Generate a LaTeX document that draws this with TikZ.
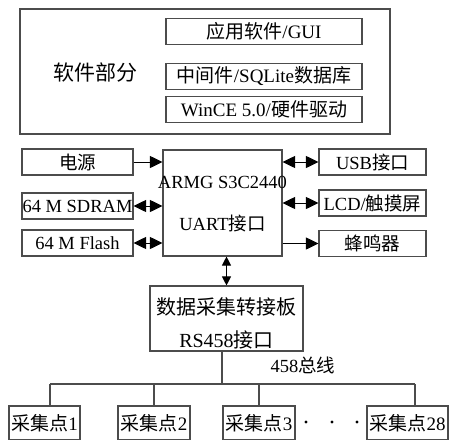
\documentclass[tikz,border=0pt]{standalone}
\usepackage{fontspec}
\setmainfont{Liberation Serif}
\newfontfamily\cjkfont{Noto Sans CJK SC}
\newcommand\zh[1]{{\cjkfont #1}}
\usetikzlibrary{arrows.meta}
\definecolor{linec}{gray}{0.3}
\begin{document}
\begin{tikzpicture}[x=1pt,y=-1pt,
  box/.style={draw=linec, line width=1.1pt, inner sep=0pt, font=\fontsize{18.5}{20}\selectfont},
  swbox/.style={box, minimum width=196pt, minimum height=26pt, font=\fontsize{19}{20}\selectfont},
  lbox/.style={box, minimum width=111pt, minimum height=26pt},
  rbox/.style={box, minimum width=107pt, minimum height=26pt},
  pbox/.style={box, minimum height=34pt, font=\fontsize{19}{20}\selectfont},
  lbl/.style={inner sep=0pt, font=\fontsize{18.5}{20}\selectfont},
  wire/.style={draw=linec, line width=1.1pt},
  arr/.style={draw=black, line width=1pt, -{Triangle[length=12.5pt,width=12pt]}},
  darr/.style={draw=black, line width=1pt, {Triangle[length=12.5pt,width=12pt]}-{Triangle[length=12.5pt,width=12pt]}},
  varr/.style={draw=black, line width=1pt, {Triangle[length=9pt,width=9pt]}-{Triangle[length=9pt,width=9pt]}}
]
\useasboundingbox (0,0) rectangle (449,439);

% software part
\node[box, minimum width=370pt, minimum height=125pt] (sw) at (205,71.5) {};
\node[lbl, font=\fontsize{21}{22}\selectfont] (swl) at (95,73) {\zh{软件部分}};
\node[swbox] (gui) at (264,31.5) {\zh{应用软件}/GUI};
\node[swbox] (sql) at (264,76.5) {\zh{中间件}/SQLite\zh{数据库}};
\node[swbox] (wince) at (264,109.5) {WinCE 5.0/\zh{硬件驱动}};

% hardware
\node[lbox] (power) at (77.5,162) {\zh{电源}};
\node[lbox] (sdram) at (77.5,206) {64 M SDRAM};
\node[lbox] (flash) at (77.5,243) {64 M Flash};
\node[box, minimum width=119pt, minimum height=106pt] (arm) at (222.5,203) {};
\node[lbl] (armt) at (222.5,182) {ARMG S3C2440};
\node[lbl] (uart) at (222.5,223) {UART\zh{接口}};
\node[rbox] (usb) at (372.5,162) {USB\zh{接口}};
\node[rbox] (lcd) at (372.5,203) {LCD/\zh{触摸屏}};
\node[rbox] (buzzer) at (372.5,243.5) {\zh{蜂鸣器}};

\draw[arr] (power.east) -- (power.east -| arm.west);
\draw[darr] (sdram.east) -- (sdram.east -| arm.west);
\draw[darr] (flash.east) -- (flash.east -| arm.west);
\draw[darr] (arm.east |- usb.west) -- (usb.west);
\draw[darr] (arm.east |- lcd.west) -- (lcd.west);
\draw[arr] (arm.east |- buzzer.west) -- (buzzer.west);

% data board
\node[box, minimum width=153pt, minimum height=65pt] (data) at (226.5,318.5) {};
\node[lbl, font=\fontsize{20}{22}\selectfont] (datat) at (226.5,307) {\zh{数据采集转接板}};
\node[lbl, font=\fontsize{20}{22}\selectfont] (rs) at (226.5,340) {RS458\zh{接口}};
\draw[varr] (arm.south -| data.north) -- (data.north);

% bus
\node[lbl] (buslbl) at (303,365) {458\zh{总线}};
\coordinate (busy) at (0,384);
\node[pbox, minimum width=71pt] (p1) at (44.5,423) {\zh{采集点}1};
\node[pbox, minimum width=72pt] (p2) at (154,423) {\zh{采集点}2};
\node[pbox, minimum width=72pt] (p3) at (259,423) {\zh{采集点}3};
\node[pbox, minimum width=81pt] (p28) at (407.5,423) {\zh{采集点}28};

\draw[wire] ([xshift=-4.5pt]data.south) -- ([xshift=-4.5pt]data.south |- busy);
\draw[wire] ([xshift=5.5pt]p1.north |- busy) -- ([xshift=7.5pt]p28.north |- busy);
\draw[wire] ([xshift=5.5pt]p1.north) -- ([xshift=5.5pt]p1.north |- busy);
\draw[wire] (p2.north) -- (p2.north |- busy);
\draw[wire] (p3.north) -- (p3.north |- busy);
\draw[wire] ([xshift=7.5pt]p28.north) -- ([xshift=7.5pt]p28.north |- busy);

\fill (306,422) circle (1.7pt);
\fill (332,422) circle (1.7pt);
\fill (357,422) circle (1.7pt);
\end{tikzpicture}
\end{document}
